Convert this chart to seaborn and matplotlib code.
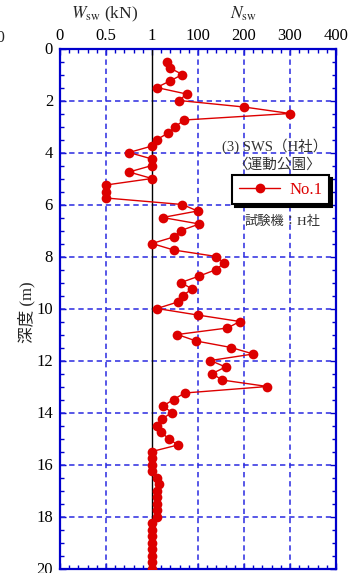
import matplotlib
matplotlib.use("Agg")
import numpy as np
import pandas as pd
import seaborn as sns
import matplotlib.pyplot as plt
from matplotlib.ticker import FixedLocator, FixedFormatter, MultipleLocator

# Swedish weight sounding profile: load Wsw (kN) until the rod turns,
# then the number of half-turns per metre Nsw under the full 1 kN load.
depth = [0.50, 0.75, 1.00, 1.25, 1.50, 1.75, 2.00, 2.25, 2.50, 2.75,
         3.00, 3.25, 3.50, 3.75, 4.00, 4.25, 4.50, 4.75, 5.00, 5.25,
         5.50, 5.75, 6.00, 6.25, 6.50, 6.75, 7.00, 7.25, 7.50, 7.75,
         8.00, 8.25, 8.50, 8.75, 9.00, 9.25, 9.50, 9.75, 10.00, 10.25,
         10.50, 10.75, 11.00, 11.25, 11.50, 11.75, 12.00, 12.25, 12.50, 12.75,
         13.00, 13.25, 13.50, 13.75, 14.00, 14.25, 14.50, 14.75, 15.00, 15.25,
         15.50, 15.75, 16.00, 16.25, 16.50, 16.75, 17.00, 17.25, 17.50, 17.75,
         18.00, 18.25, 18.50, 18.75, 19.00, 19.25, 19.50, 19.75, 20.00]
wsw = [1, 1, 1, 1, 1, 1, 1, 1, 1, 1,
       1, 1, 1, 1, 0.75, 1, 1, 0.75, 1, 0.5,
       0.5, 0.5, 1, 1, 1, 1, 1, 1, 1, 1,
       1, 1, 1, 1, 1, 1, 1, 1, 1, 1,
       1, 1, 1, 1, 1, 1, 1, 1, 1, 1,
       1, 1, 1, 1, 1, 1, 1, 1, 1, 1,
       1, 1, 1, 1, 1, 1, 1, 1, 1, 1,
       1, 1, 1, 1, 1, 1, 1, 1, 1]
nsw = [32, 39, 66, 39, 10, 75, 59, 200, 300, 70,
       51, 35, 11, 0, 0, 0, 0, 0, 0, 0,
       0, 0, 66, 99, 23, 103, 63, 47, 0, 47,
       140, 156, 140, 103, 63, 87, 67, 56, 11, 99,
       191, 164, 55, 96, 172, 220, 127, 160, 131, 152,
       251, 71, 47, 24, 43, 22, 10, 19, 36, 56,
       0, 0, 0, 0, 10, 15, 10, 10, 10, 10,
       10, 0, 0, 0, 0, 0, 0, 0, 0]

x_ticks = [0, 1, 2, 3, 4, 5, 6]
x_labels = ["0", "0.5", "1", "100", "200", "300", "400"]
y_ticks = [0, 2, 4, 6, 8, 10, 12, 14, 16, 18, 20]

# Shared horizontal axis: 0-1 kN occupies two units, then 100 turns per unit
df = pd.DataFrame({"depth": depth, "wsw": wsw, "nsw": nsw})
df["pos"] = 2 * df["wsw"] + df["nsw"] / 100.0

sns.set_theme(style="white")
plt.rcParams["font.family"] = ["Liberation Serif", "Noto Sans CJK JP"]
plt.rcParams["mathtext.fontset"] = "stix"

W, H = 350, 573
fig = plt.figure(figsize=(W / 100, H / 100), dpi=100)
left, right, top, bottom = 60, 336, 48.5, 568.5
ax = fig.add_axes([left / W, 1 - bottom / H, (right - left) / W, (bottom - top) / H])

red = "#dd0000"
blue = "#0000cc"
grid_blue = "#2a2ae0"

for xv in [1, 3, 4, 5]:
    ax.axvline(xv, color=grid_blue, lw=1.1, ls=(0, (3.5, 2.5)), zorder=1)
for yv in y_ticks[1:-1]:
    ax.axhline(yv, color=grid_blue, lw=1.1, ls=(0, (3.5, 2.5)), zorder=1)
ax.axvline(2, color="black", lw=1.0, zorder=1.5)

sns.lineplot(data=df, x="pos", y="depth", orient="y", sort=False,
             color=red, marker="o", markersize=7, markeredgewidth=0,
             linewidth=1.0, ax=ax, label="No.1", zorder=3)

ax.set_xlim(0, 6)
ax.set_ylim(20, 0)
ax.xaxis.set_major_locator(FixedLocator(x_ticks))
ax.xaxis.set_major_formatter(FixedFormatter(x_labels))
ax.xaxis.set_minor_locator(MultipleLocator(0.2))
ax.yaxis.set_major_locator(FixedLocator(y_ticks))
ax.yaxis.set_minor_locator(MultipleLocator(0.5))
ax.tick_params(which="both", direction="in", top=True, bottom=True,
               left=True, right=True, labeltop=True, labelbottom=False,
               color=blue, width=1.0, labelsize=12, labelcolor="black")
ax.tick_params(axis="x", which="major", length=4, pad=3)
ax.tick_params(axis="y", which="major", length=4, pad=5)
ax.tick_params(which="minor", length=3)
ax.set_xlabel("")
ax.set_ylabel("")
for sp in ax.spines.values():
    sp.set_color(blue)
    sp.set_linewidth(1.6)
    sp.set_visible(True)

def px(x, y):
    return x / W, 1 - y / H

fig.text(*px(105, 14), r"$W_{\rm sw}$ (kN)", ha="center", va="center", fontsize=12.5)
fig.text(*px(244, 14), r"$N_{\rm sw}$", ha="center", va="center", fontsize=12.5)
fig.text(*px(5.5, 38), "400", ha="right", va="center", fontsize=12)
fig.text(*px(27, 312), "深度 (m)", rotation=90, ha="center", va="center", fontsize=12)

fig.text(*px(275, 146), "(3) SWS（H社）", ha="center", va="center",
         fontsize=10.5, color="#333333")
fig.text(*px(277, 165), "〈運動公園〉", ha="center", va="center",
         fontsize=10.5, color="#333333")
fig.text(*px(282, 222), "試験機：H社", ha="center", va="center",
         fontsize=9.5, color="#333333")

leg = ax.legend(loc="upper left",
                bbox_to_anchor=((232 - left) / (right - left), (bottom - 175) / (bottom - top)),
                frameon=True, fancybox=False, framealpha=1,
                shadow={"color": "black", "alpha": 1},
                handlelength=2.5, handletextpad=0.55, borderpad=0.4,
                borderaxespad=0, fontsize=12, labelcolor=red)
leg.get_frame().set_edgecolor("black")
leg.get_frame().set_linewidth(1.5)
leg.set_zorder(5)

fig.savefig("out.png", dpi=100)
